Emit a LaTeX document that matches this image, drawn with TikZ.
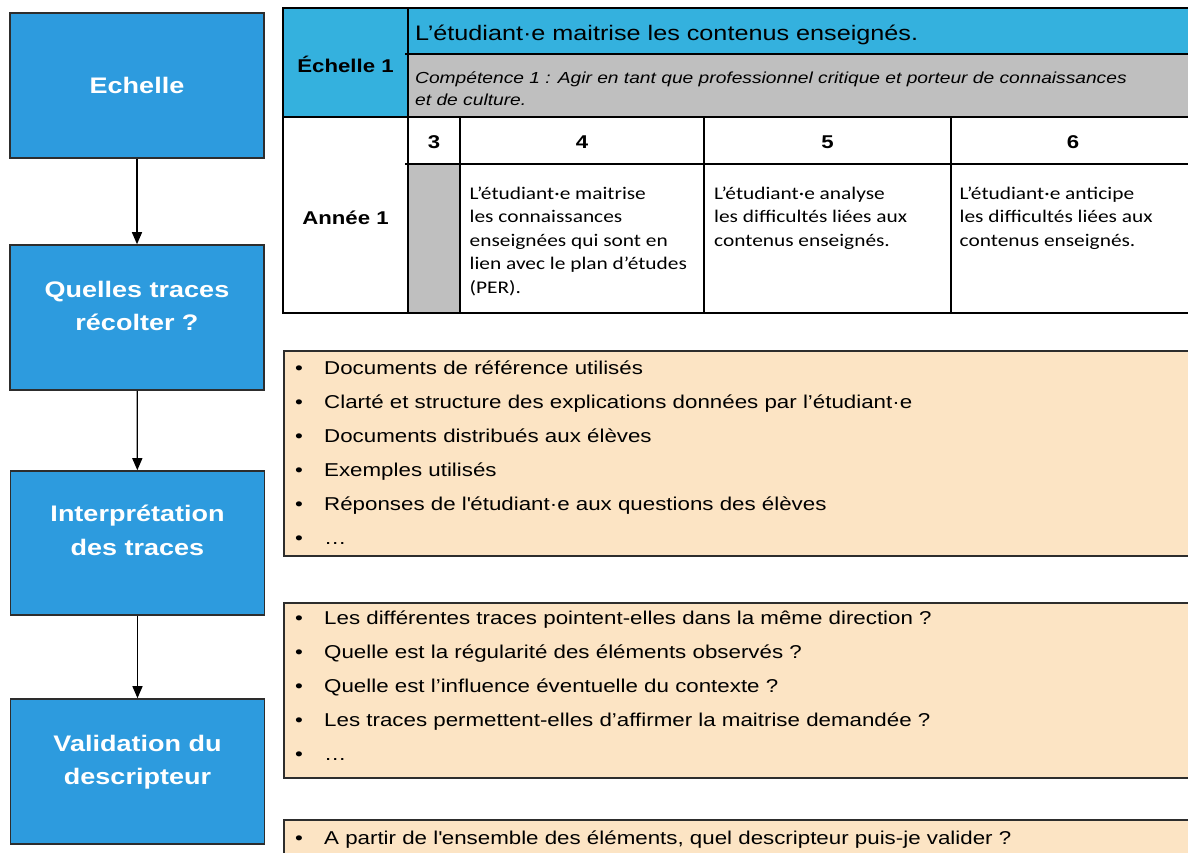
\documentclass[tikz,border=0pt]{standalone}
\usepackage{fontspec}
\setmainfont{Liberation Sans}[FakeStretch=1.2]
\newfontfamily\calib{Carlito}[FakeStretch=1.2]
\usetikzlibrary{arrows.meta}
\definecolor{boxblue}{RGB}{45,155,222}
\definecolor{hdrblue}{RGB}{52,177,222}
\definecolor{cellgray}{RGB}{191,191,191}
\definecolor{peach}{RGB}{252,228,196}
\definecolor{edge}{RGB}{45,45,45}
\newcommand{\bulit}{\makebox[29pt][l]{•}}
\begin{document}
\begin{tikzpicture}[x=1pt,y=-1pt,
  stepbox/.style={draw=edge,line width=1.6pt,fill=boxblue,minimum width=254pt,minimum height=145pt,inner sep=0},
  steptext/.style={text=white,font=\bfseries\fontsize{22.5}{27}\selectfont,anchor=base,inner sep=0},
  flow/.style={draw=black,line width=1.3pt,-{Triangle[width=10pt,length=12pt]}},
  listbox/.style={draw=edge,line width=1.6pt,fill=peach,anchor=north west,inner sep=0},
  listtext/.style={anchor=base west,inner sep=0,font=\fontsize{18.6}{34}\selectfont},
  grid/.style={draw=black,line width=1.6pt},
  hdrtext/.style={anchor=base west,inner sep=0,font=\fontsize{21}{25}\selectfont},
  comptext/.style={anchor=base west,inner sep=0,font=\itshape\fontsize{16}{21.5}\selectfont},
  boldcell/.style={anchor=base,inner sep=0,font=\bfseries\fontsize{18.5}{22}\selectfont},
  celltext/.style={anchor=base west,inner sep=0,font=\calib\fontsize{17.8}{23.6}\selectfont}
]
\useasboundingbox (0,0) rectangle (1188,852);
\fill[white] (0,0) rectangle (1188,852);

% left flow
\node[stepbox] (b1) at (137,85.5) {};
\node[stepbox] (b2) at (137,317.5) {};
\node[stepbox,minimum height=144pt] (b3) at (137.5,543) {};
\node[stepbox] (b4) at (137.5,771.5) {};
\node[steptext] (t1) at (137,93) {Echelle};
\node[steptext] (t2a) at (137,297) {Quelles traces};
\node[steptext] (t2b) at (137,330) {récolter ?};
\node[steptext] (t3a) at (137.5,521.5) {Interprétation};
\node[steptext] (t3b) at (137.5,555) {des traces};
\node[steptext] (t4a) at (137.5,751.5) {Validation du};
\node[steptext] (t4b) at (137.5,784) {descripteur};
\draw[flow] (b1) -- (b2);
\draw[flow] (b2) -- (b3);
\draw[flow] (b3) -- (b4);

% table
\fill[hdrblue] (283,8) rectangle (408,117);
\fill[hdrblue] (408,8) rectangle (1196,54);
\fill[cellgray] (408,54) rectangle (1196,117);
\fill[cellgray] (408,164) rectangle (460,313);
\draw[grid] (283,8) rectangle (1196,313);
\draw[grid] (408,8) -- (408,313);
\draw[grid] (405,54) -- (1196,54);
\draw[grid] (283,117) -- (1196,117);
\draw[grid] (405,164) -- (1196,164);
\draw[grid] (460,117) -- (460,313);
\draw[grid] (704,117) -- (704,313);
\draw[grid] (951,117) -- (951,313);

\node[hdrtext] (hdr) at (415,40) {L’étudiant·e maitrise les contenus enseignés.};
\node[comptext] (comp) at (415,83.5) {\begin{tabular}[t]{@{}l@{}}Compétence 1 : Agir en tant que professionnel critique et porteur de connaissances\\et de culture.\end{tabular}};
\node[boldcell] (ech) at (345.5,72.5) {Échelle 1};
\node[boldcell] (ann) at (345.5,224) {Année 1};
\node[boldcell] (n3) at (434,148) {3};
\node[boldcell] (n4) at (582,148) {4};
\node[boldcell] (n5) at (827.5,148) {5};
\node[boldcell] (n6) at (1073,148) {6};
\node[celltext] (c4) at (469.5,199) {\begin{tabular}[t]{@{}l@{}}L’étudiant·e maitrise\\les connaissances\\enseignées qui sont en\\lien avec le plan d’études\\(PER).\end{tabular}};
\node[celltext] (c5) at (714,199) {\begin{tabular}[t]{@{}l@{}}L’étudiant·e analyse\\les difficultés liées aux\\contenus enseignés.\end{tabular}};
\node[celltext] (c6) at (959.5,199) {\begin{tabular}[t]{@{}l@{}}L’étudiant·e anticipe\\les difficultés liées aux\\contenus enseignés.\end{tabular}};

% lists
\node[listbox,minimum width=913pt,minimum height=205pt] (la) at (283,350) {};
\node[listbox,minimum width=913pt,minimum height=175pt] (lb) at (283,602) {};
\node[listbox,minimum width=913pt,minimum height=60pt] (lc) at (283,819) {};

\node[listtext] (xa) at (295,374.5) {\begin{tabular}[t]{@{}l@{}}
\bulit Documents de référence utilisés\\
\bulit Clarté et structure des explications données par l’étudiant·e\\
\bulit Documents distribués aux élèves\\
\bulit Exemples utilisés\\
\bulit Réponses de l\textquotesingle étudiant·e aux questions des élèves\\
\bulit …\end{tabular}};
\node[listtext] (xb) at (295,624.5) {\begin{tabular}[t]{@{}l@{}}
\bulit Les différentes traces pointent-elles dans la même direction ?\\
\bulit Quelle est la régularité des éléments observés ?\\
\bulit Quelle est l’influence éventuelle du contexte ?\\
\bulit Les traces permettent-elles d’affirmer la maitrise demandée ?\\
\bulit …\end{tabular}};
\node[listtext] (xc) at (295,844.5) {\bulit A partir de l\textquotesingle ensemble des éléments, quel descripteur puis-je valider ?};
\end{tikzpicture}
\end{document}
